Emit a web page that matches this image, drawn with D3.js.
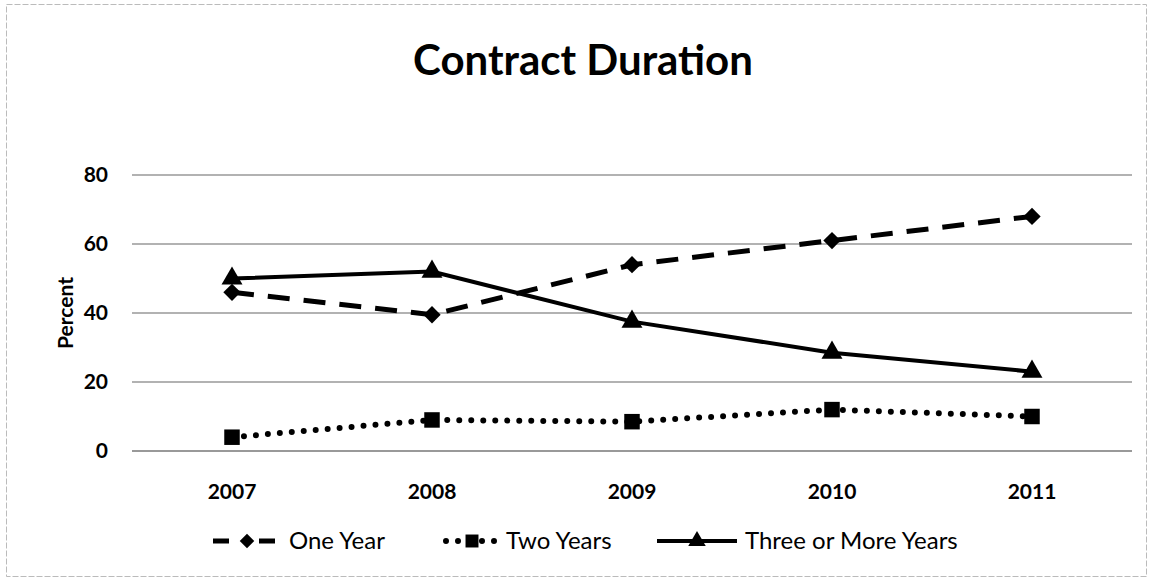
<!DOCTYPE html>
<html>
<head>
<meta charset="utf-8">
<script src="https://cdn.jsdelivr.net/npm/d3@7"></script>
<style>
  body { margin: 0; background: #fff; }
  text { font-family: Lato, "Open Sans", sans-serif; fill: #000; }
</style>
</head>
<body>
<div id="chart"></div>
<script>
// data
var years = ["2007", "2008", "2009", "2010", "2011"];
var oneYear = [46, 39.5, 54, 61, 68];
var twoYears = [4, 9, 8.5, 12, 10];
var threeYears = [50, 52, 37.5, 28.5, 23];
var yTicks = [0, 20, 40, 60, 80];
var seriesNames = ["One Year", "Two Years", "Three or More Years"];

var width = 1152,
    height = 581;

var svg = d3.select("#chart")
    .append("svg")
    .attr("width", width)
    .attr("height", height);

// faint frame around the chart
svg.append("rect")
    .attr("x", 6.5).attr("y", 4.5)
    .attr("width", 1140).attr("height", 572)
    .attr("fill", "none")
    .attr("stroke", "#bbb")
    .attr("stroke-dasharray", "6,2");

var x = d3.scalePoint()
    .domain(years)
    .range([132, 1132])
    .padding(0.5);

var y = d3.scaleLinear()
    .domain([0, 80])
    .range([451, 175]);

// gridlines
svg.append("g")
    .selectAll("line")
    .data(yTicks)
    .enter().append("line")
    .attr("x1", 132).attr("x2", 1132)
    .attr("y1", d => y(d)).attr("y2", d => y(d))
    .attr("stroke", d => d == 0 ? "#777" : "#999")
    .attr("stroke-width", 1.5);

// y tick labels
svg.append("g")
    .selectAll("text")
    .data(yTicks)
    .enter().append("text")
    .attr("x", 108)
    .attr("y", d => y(d))
    .attr("dy", "0.35em")
    .attr("text-anchor", "end")
    .style("font-size", "21px")
    .style("font-weight", "bold")
    .text(d => d);

// x tick labels
svg.append("g")
    .selectAll("text")
    .data(years)
    .enter().append("text")
    .attr("x", d => x(d))
    .attr("y", 492)
    .attr("dy", "0.35em")
    .attr("text-anchor", "middle")
    .style("font-size", "21px")
    .style("font-weight", "bold")
    .text(d => d);

// axis title
svg.append("text")
    .attr("transform", "translate(66,313) rotate(-90)")
    .attr("dy", "0.35em")
    .attr("text-anchor", "middle")
    .style("font-size", "21px")
    .style("font-weight", "bold")
    .text("Percent");

// chart title
svg.append("text")
    .attr("x", 583)
    .attr("y", 60)
    .attr("dy", "0.35em")
    .attr("text-anchor", "middle")
    .style("font-size", "42px")
    .style("font-weight", "bold")
    .text("Contract Duration");

var series = [
  {name: seriesNames[0], values: oneYear, dash: "22,14", width: 5, cap: "butt", symbol: d3.symbolSquare, rot: 45, size: 150},
  {name: seriesNames[1], values: twoYears, dash: "0,12", width: 6, cap: "round", symbol: d3.symbolSquare, rot: 0, size: 240},
  {name: seriesNames[2], values: threeYears, dash: null, width: 4, cap: "butt", symbol: d3.symbolTriangle, rot: 0, size: 190}
];

var line = d3.line()
    .x((d, i) => x(years[i]))
    .y(d => y(d));

series.forEach(function(s) {
  svg.append("path")
      .datum(s.values)
      .attr("d", line)
      .attr("fill", "none")
      .attr("stroke", "#000")
      .attr("stroke-width", s.width)
      .attr("stroke-linecap", s.cap)
      .attr("stroke-dasharray", s.dash);

  svg.append("g")
      .selectAll("path")
      .data(s.values)
      .enter().append("path")
      .attr("transform", (d, i) => "translate(" + x(years[i]) + "," + y(d) + ") rotate(" + s.rot + ")")
      .attr("d", d3.symbol().type(s.symbol).size(s.size))
      .attr("fill", "#000");
});

// legend
var legendX = [213, 446, 657];
var legendW = [68, 52, 80];
var legend = svg.append("g");
series.forEach(function(s, i) {
  var g = legend.append("g").attr("transform", "translate(" + legendX[i] + ",541)");
  g.append("line")
      .attr("x1", 0).attr("x2", legendW[i])
      .attr("stroke", "#000")
      .attr("stroke-width", s.width)
      .attr("stroke-linecap", s.cap)
      .attr("stroke-dasharray", i == 0 ? "16,6,0,24,16" : s.dash);
  g.append("path")
      .attr("transform", "translate(" + (legendW[i] / 2) + ",0) rotate(" + s.rot + ")")
      .attr("d", d3.symbol().type(s.symbol).size(s.size * 0.7))
      .attr("fill", "#000");
  g.append("text")
      .attr("x", legendW[i] + 8)
      .attr("dy", "0.35em")
      .style("font-size", "24px")
      .text(s.name);
});
</script>
</body>
</html>
